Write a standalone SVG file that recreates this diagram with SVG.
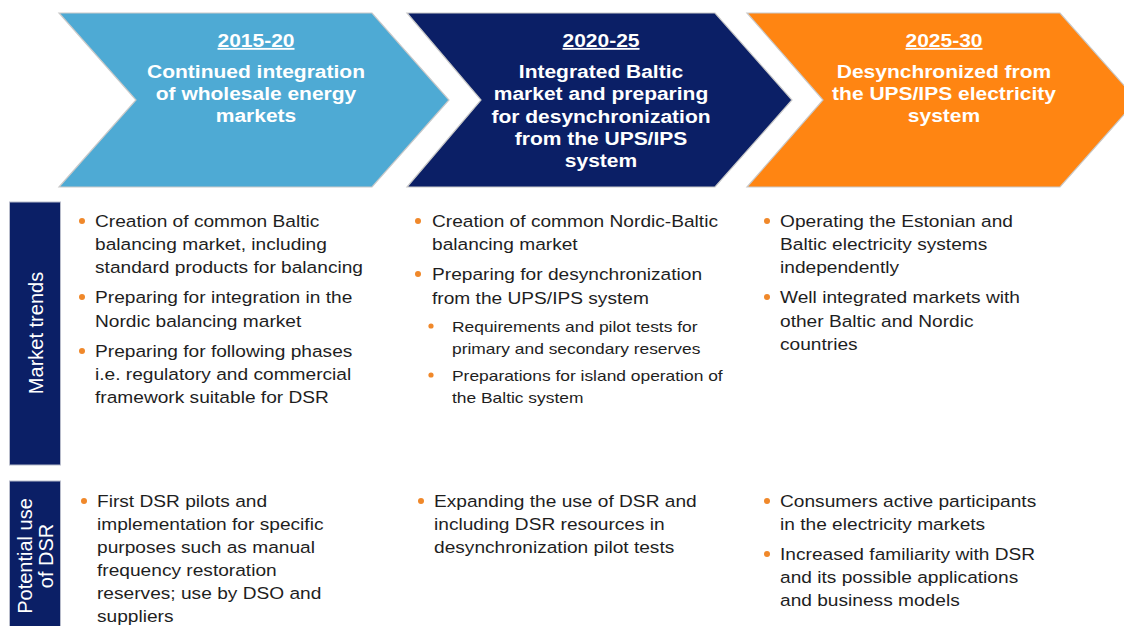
<svg xmlns="http://www.w3.org/2000/svg" width="1124" height="626" viewBox="0 0 1124 626">
  <style>
    .chev { stroke: #c9c9c9; stroke-width: 1.2; }
    .ttl { font-family: "Liberation Sans", Arial, sans-serif; font-weight: bold; font-size: 18.5px; fill: #ffffff; text-anchor: middle; }
    .yr { text-decoration: underline; }
    .body { font-family: "Liberation Sans", Arial, sans-serif; font-size: 16.5px; fill: #1e1e1e; }
    .sub { font-family: "Liberation Sans", Arial, sans-serif; font-size: 15px; fill: #1e1e1e; }
    .side { font-family: "Liberation Sans", Arial, sans-serif; font-size: 20px; fill: #ffffff; text-anchor: middle; }
    .bar { fill: #0b1f66; stroke: #b8bccb; stroke-width: 1; }
    .dot { fill: #f0882a; }
  </style>
  <rect width="1124" height="626" fill="#ffffff"/>

  <g id="phase-2015-20">
    <polygon class="chev" fill="#4eaad4" points="59,13 372,13 449,100 372,187 59,187 136,100"/>
    <g transform="translate(256,0) scale(1.135,1)">
      <text class="ttl yr" x="0" y="47">2015-20</text>
      <text class="ttl" x="0" y="78">Continued integration</text>
      <text class="ttl" x="0" y="100">of wholesale energy</text>
      <text class="ttl" x="0" y="122">markets</text>
    </g>
  </g>

  <g id="phase-2020-25">
    <polygon class="chev" fill="#0b1f66" points="407,13 715,13 792,100 715,187 407,187 481,100"/>
    <g transform="translate(601,0) scale(1.135,1)">
      <text class="ttl yr" x="0" y="47">2020-25</text>
      <text class="ttl" x="0" y="78">Integrated Baltic</text>
      <text class="ttl" x="0" y="100.3">market and preparing</text>
      <text class="ttl" x="0" y="122.6">for desynchronization</text>
      <text class="ttl" x="0" y="144.9">from the UPS/IPS</text>
      <text class="ttl" x="0" y="167.2">system</text>
    </g>
  </g>

  <g id="phase-2025-30">
    <polygon class="chev" fill="#ff8512" points="747,13 1060,13 1137,100 1060,187 747,187 823,100"/>
    <g transform="translate(944,0) scale(1.135,1)">
      <text class="ttl yr" x="0" y="47">2025-30</text>
      <text class="ttl" x="0" y="78">Desynchronized from</text>
      <text class="ttl" x="0" y="100">the UPS/IPS electricity</text>
      <text class="ttl" x="0" y="122">system</text>
    </g>
  </g>

  <g id="label-market-trends">
    <rect class="bar" x="9.5" y="202" width="51" height="263"/>
    <text class="side" transform="translate(43,333) rotate(-90)">Market trends</text>
  </g>

  <g id="label-potential-use">
    <rect class="bar" x="9.5" y="481" width="51" height="150"/>
    <text class="side" transform="translate(32,556) rotate(-90)">Potential use</text>
    <text class="side" transform="translate(53,556) rotate(-90)">of DSR</text>
  </g>

  <g id="trends-2015-20">
    <circle class="dot" cx="82" cy="221" r="3"/>
    <circle class="dot" cx="82" cy="297" r="3"/>
    <circle class="dot" cx="82" cy="351" r="3"/>
    <g transform="translate(95,0) scale(1.16,1)">
      <text class="body" x="0" y="227">Creation of common Baltic</text>
      <text class="body" x="0" y="250">balancing  market, including</text>
      <text class="body" x="0" y="273">standard products for balancing</text>
      <text class="body" x="0" y="303">Preparing for integration in the</text>
      <text class="body" x="0" y="327">Nordic balancing market</text>
      <text class="body" x="0" y="357">Preparing for following phases</text>
      <text class="body" x="0" y="380">i.e. regulatory and commercial</text>
      <text class="body" x="0" y="403">framework suitable for DSR</text>
    </g>
  </g>

  <g id="trends-2020-25">
    <circle class="dot" cx="418" cy="221" r="3"/>
    <circle class="dot" cx="418" cy="274" r="3"/>
    <circle class="dot" cx="431" cy="326" r="2.6"/>
    <circle class="dot" cx="431" cy="375" r="2.6"/>
    <g transform="translate(432,0) scale(1.16,1)">
      <text class="body" x="0" y="227">Creation of common Nordic-Baltic</text>
      <text class="body" x="0" y="250">balancing  market</text>
      <text class="body" x="0" y="280">Preparing for desynchronization</text>
      <text class="body" x="0" y="304">from the UPS/IPS system</text>
    </g>
    <g transform="translate(452,0) scale(1.16,1)">
      <text class="sub" x="0" y="332">Requirements and pilot tests for</text>
      <text class="sub" x="0" y="354">primary and secondary reserves</text>
      <text class="sub" x="0" y="381">Preparations for island operation of</text>
      <text class="sub" x="0" y="403">the Baltic system</text>
    </g>
  </g>

  <g id="trends-2025-30">
    <circle class="dot" cx="767" cy="221" r="3"/>
    <circle class="dot" cx="767" cy="297" r="3"/>
    <g transform="translate(780,0) scale(1.16,1)">
      <text class="body" x="0" y="227">Operating the Estonian and</text>
      <text class="body" x="0" y="250">Baltic electricity systems</text>
      <text class="body" x="0" y="273">independently</text>
      <text class="body" x="0" y="303">Well integrated markets with</text>
      <text class="body" x="0" y="327">other Baltic and Nordic</text>
      <text class="body" x="0" y="350">countries</text>
    </g>
  </g>

  <g id="dsr-2015-20">
    <circle class="dot" cx="84" cy="501" r="3"/>
    <g transform="translate(97,0) scale(1.16,1)">
      <text class="body" x="0" y="507">First DSR pilots and</text>
      <text class="body" x="0" y="530">implementation  for specific</text>
      <text class="body" x="0" y="553">purposes such as manual</text>
      <text class="body" x="0" y="576">frequency restoration</text>
      <text class="body" x="0" y="599">reserves; use by DSO and</text>
      <text class="body" x="0" y="622">suppliers</text>
    </g>
  </g>

  <g id="dsr-2020-25">
    <circle class="dot" cx="421" cy="501" r="3"/>
    <g transform="translate(434,0) scale(1.16,1)">
      <text class="body" x="0" y="507">Expanding  the use of DSR and</text>
      <text class="body" x="0" y="530">including  DSR resources in</text>
      <text class="body" x="0" y="553">desynchronization pilot tests</text>
    </g>
  </g>

  <g id="dsr-2025-30">
    <circle class="dot" cx="767" cy="501" r="3"/>
    <circle class="dot" cx="767" cy="554" r="3"/>
    <g transform="translate(780,0) scale(1.16,1)">
      <text class="body" x="0" y="507">Consumers active participants</text>
      <text class="body" x="0" y="530">in the electricity markets</text>
      <text class="body" x="0" y="560">Increased familiarity with DSR</text>
      <text class="body" x="0" y="583">and its possible applications</text>
      <text class="body" x="0" y="606">and business models</text>
    </g>
  </g>

  <g id="connectors"/>
</svg>
